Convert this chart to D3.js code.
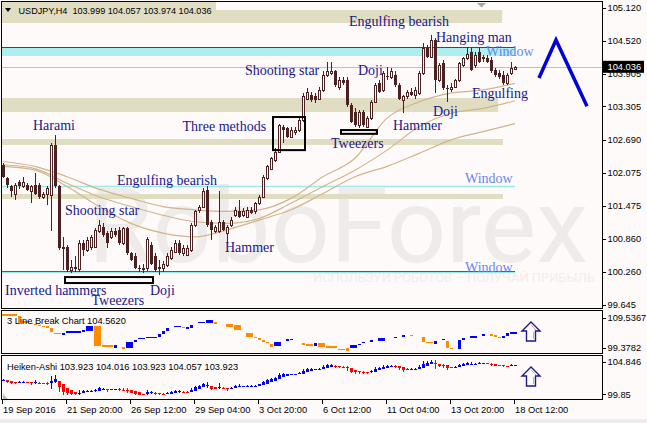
<!DOCTYPE html>
<html><head><meta charset="utf-8">
<script src="https://cdn.jsdelivr.net/npm/d3@7"></script>
<style>body{margin:0;background:#fffafa;} svg{display:block;}</style>
</head><body>
<svg id="c" width="647" height="423"></svg>
<script>
// ---------- DATA ----------
const symbolTitle = "USDJPY,H4  103.999 104.057 103.974 104.036";
const lastPrice = 104.036;
const open  = [102.23,101.98,101.83,101.70,101.92,101.83,101.86,101.74,101.86,101.86,101.64,101.70,101.67,102.59,101.83,100.69,100.72,100.29,100.35,100.30,100.78,100.66,100.72,100.72,101.00,101.09,100.97,100.90,101.00,101.03,100.78,101.06,100.60,100.54,100.32,100.31,100.32,100.75,100.54,100.34,100.32,100.38,100.51,100.63,100.78,100.60,100.57,100.66,101.12,101.40,101.46,101.77,101.18,101.00,101.00,101.18,100.97,101.12,101.30,101.37,101.30,101.27,101.40,101.37,101.52,101.64,101.98,102.16,102.32,102.47,102.93,102.90,102.75,102.84,102.87,103.06,103.45,103.52,103.49,103.45,103.61,103.89,103.92,103.95,103.67,103.79,103.79,103.33,103.21,102.96,103.21,102.93,103.09,103.39,103.73,103.61,103.87,103.85,103.89,103.70,103.42,103.49,103.58,103.52,103.55,103.92,104.38,104.22,104.53,103.79,104.10,103.64,103.62,103.67,103.79,104.07,104.19,104.31,104.07,104.31,104.19,104.19,104.16,103.98,103.92,103.89,103.73,103.92,103.999];
const high  = [102.27,102.00,101.86,101.89,101.95,102.01,101.90,101.86,102.08,101.90,101.72,101.83,102.63,102.78,101.86,100.90,100.75,100.48,100.54,100.84,100.84,100.90,100.94,101.06,101.21,101.15,101.00,101.06,101.06,101.09,101.09,101.09,100.63,100.60,100.38,100.40,100.90,100.80,100.60,100.48,100.45,100.60,100.72,100.84,100.84,100.75,100.75,101.15,101.40,101.49,101.80,101.83,101.21,101.12,101.74,101.21,101.12,101.27,101.46,101.58,101.43,101.46,101.46,101.55,101.67,102.04,102.23,102.38,102.53,102.99,102.96,102.93,102.93,102.93,103.09,103.55,103.64,103.58,103.55,103.67,103.95,104.13,104.13,103.98,103.85,103.85,103.85,103.36,103.27,103.24,103.24,103.12,103.42,103.73,103.79,103.95,104.04,104.01,103.95,103.73,103.52,103.61,103.64,103.67,103.95,104.47,104.44,104.62,104.56,104.10,104.16,103.70,103.73,103.82,104.13,104.22,104.41,104.38,104.31,104.38,104.25,104.25,104.22,104.01,103.98,103.95,103.92,104.13,104.057];
const low   = [101.98,101.80,101.64,101.58,101.78,101.80,101.74,101.52,101.68,101.60,101.60,101.49,101.00,101.80,100.66,100.29,100.26,100.24,100.26,100.26,100.54,100.63,100.66,100.69,100.97,100.90,100.69,100.87,100.90,100.75,100.75,100.57,100.45,100.30,100.26,100.24,100.28,100.38,100.26,100.20,100.26,100.35,100.48,100.60,100.57,100.54,100.54,100.63,101.09,101.35,101.43,101.09,100.84,100.97,100.97,101.00,100.78,101.09,101.27,101.24,101.27,101.24,101.33,101.33,101.49,101.61,101.95,102.13,102.29,102.44,102.63,102.72,102.72,102.78,102.84,103.02,103.42,103.39,103.36,103.42,103.58,103.85,103.89,103.67,103.61,103.70,103.30,103.00,102.93,102.90,102.93,102.90,103.06,103.36,103.55,103.58,103.79,103.82,103.67,103.42,103.18,103.45,103.49,103.45,103.52,103.89,104.19,104.19,103.55,103.76,103.61,103.39,103.58,103.64,103.76,104.04,104.16,103.95,104.01,104.10,104.13,104.10,103.92,103.85,103.82,103.70,103.70,103.89,103.974];
const close = [102.01,101.86,101.74,101.86,101.83,101.92,101.77,101.83,101.70,101.64,101.70,101.80,102.59,101.83,100.69,100.72,100.29,100.35,100.30,100.78,100.66,100.84,100.90,101.03,101.12,100.94,100.78,101.00,100.94,100.78,101.06,100.60,100.48,100.32,100.30,100.33,100.87,100.41,100.29,100.35,100.41,100.54,100.66,100.78,100.60,100.69,100.69,101.12,101.37,101.46,101.74,101.12,101.03,101.09,101.18,101.03,101.09,101.21,101.40,101.27,101.37,101.40,101.35,101.52,101.64,102.01,102.20,102.35,102.47,102.96,102.87,102.75,102.87,102.87,103.06,103.49,103.58,103.42,103.42,103.61,103.89,103.95,103.95,103.70,103.79,103.73,103.33,103.02,102.96,103.21,102.96,103.09,103.39,103.70,103.58,103.92,103.86,103.95,103.70,103.45,103.49,103.58,103.52,103.61,103.92,104.38,104.22,104.53,103.79,104.07,103.64,103.62,103.67,103.79,104.10,104.19,104.28,103.98,104.25,104.13,104.22,104.13,103.95,103.89,103.85,103.73,103.89,104.01,104.036];

// moving averages sampled every 8 bars
const maIdx  = [0,8,16,24,32,40,48,56,64,72,80,88,96,104,112,120,128];
const maFast = [102.29,102.20,102.01,101.78,101.61,101.46,101.40,101.37,101.40,101.61,102.01,102.35,103.09,103.39,103.55,103.61,103.73];
const maMid  = [102.23,102.16,101.89,101.64,101.46,101.30,101.18,101.15,101.24,101.52,101.83,102.13,102.50,102.93,103.18,103.27,103.41];
const maSlow = [102.20,102.13,101.83,101.46,101.15,100.97,100.90,101.03,101.21,101.40,101.70,102.01,102.20,102.44,102.69,102.84,102.99];

// support / resistance zones (price hi, lo, last bar index reached)
const zoneHi  = [105.083,103.461,102.705,101.691];
const zoneLo  = [104.843,103.203,102.595,101.599];
const zoneEnd = [124.8,123.8,125.0,125.0];
const windowZoneHi = 104.401, windowZoneLo = 104.235;
const windowLevels = [101.839,100.272];

// pattern boxes [startIdx, endIdx, priceHi, priceLo]
const patternBoxes = [[68,75,103.11,102.50],[85,93,102.87,102.80],[16,37,100.16,100.05]];

// forecast zigzag
const fcIdx   = [134,138.25,146];
const fcPrice = [103.83,104.53,103.31];

const yTicks = [105.120,104.520,103.905,103.305,102.690,102.075,101.475,100.860,100.260,99.645];
const xTickIdx = [0,16,32,48,64,80,96,112,128];
const xTickLabels = ["19 Sep 2016","21 Sep 20:00","26 Sep 12:00","29 Sep 04:00","3 Oct 20:00","6 Oct 12:00","11 Oct 04:00","13 Oct 20:00","18 Oct 12:00"];

// 3 Line Break bricks
const lbStart = [0,4,5,7,8,9,10,11,12,13,15,16,20,21,23,25,28,30,31,33,34,36,39,40,41,43,45,46,47,49,51,53,56,58,61,63,64,65,66,67,68,71,72,75,76,78,79,81,84,86,87,89,90,92,94,98,100,102,105,106,108,110,111,112,114,115,117,120,122,123,124,125,126,127];
const lbEnd   = [3,4,6,7,8,9,10,11,12,14,15,19,20,22,24,27,28,30,32,33,35,38,39,40,41,44,45,46,47,50,52,53,57,59,62,63,64,65,66,67,69,71,72,75,77,78,80,83,85,86,88,89,90,92,95,98,100,102,105,107,108,110,111,112,114,115,118,120,122,123,124,125,126,128];
const lbLo    = [108.78,106.67,107.00,106.62,106.36,106.11,105.86,105.73,104.38,104.08,103.70,104.46,104.53,104.71,100.98,100.90,100.47,100.39,100.47,101.99,102.86,103.01,103.19,104.03,104.71,105.80,105.60,105.22,105.40,106.82,106.82,106.41,105.80,104.97,103.26,102.86,102.43,101.99,101.59,100.57,100.98,102.43,102.60,101.46,100.90,100.98,100.72,100.65,100.01,99.63,100.47,101.33,101.74,102.17,102.17,103.01,103.26,103.52,101.99,101.74,101.33,102.60,100.47,100.06,100.06,102.43,102.93,103.70,103.70,103.44,103.01,102.86,103.52,103.95];
const lbHi    = [108.78,108.60,107.00,106.62,106.36,106.11,105.86,105.73,105.55,104.08,104.28,104.46,104.97,105.98,106.06,100.90,101.16,100.39,101.99,102.43,102.86,103.01,103.87,104.71,105.40,105.80,105.60,105.80,106.24,106.82,107.51,107.06,106.41,106.24,104.28,103.26,103.01,102.43,101.99,101.33,101.84,102.43,102.60,101.46,101.16,101.59,101.74,100.65,100.01,100.32,101.16,101.33,101.74,102.17,102.86,103.01,103.70,103.52,103.10,101.74,102.17,102.60,102.17,100.47,102.43,102.86,103.44,103.70,103.70,103.44,103.01,103.52,104.13,104.53];
const lbDir   = [-1,-1,-1,-1,-1,-1,-1,-1,-1,-1,1,1,1,1,-1,-1,1,-1,1,1,1,1,1,1,1,1,-1,1,1,1,1,-1,-1,-1,-1,-1,-1,-1,-1,-1,1,1,1,-1,-1,1,-1,-1,-1,-1,1,1,1,1,1,1,1,-1,-1,-1,1,1,-1,-1,1,1,1,1,-1,-1,-1,1,1,1];
const lbRange = [99.3782,109.5367];
const haRange = [99.85,104.846];

// annotations (text, layout)
const notes = [
 ["Engulfing bearish",349,26],["Hanging man",436,41.5],["Shooting star",245,74.5],["Doji",358,74.5],
 ["Engulfing",472,97.5],["Doji",433,116],["Hammer",393,129.5],["Harami",33,129.5],["Three methods",182.5,131],
 ["Tweezers",331,147.5],["Engulfing bearish",117,185],["Shooting star",65,215],["Hammer",225,251.5],
 ["Inverted hammers",5,294.5],["Doji",150,294.5],["Tweezers",91.5,304.5]
];
const windowNotes = [[486,56],[465,182.5],[465,272]];

// ---------- DRAW ----------
const svg = d3.select('#c');
const BG = '#fffafa', CANDLE = '#4a2222', AXF = 'Liberation Sans, Arial, sans-serif';
svg.append('rect').attr('width',647).attr('height',423).attr('fill',BG);
svg.append('rect').attr('x',0).attr('y',419).attr('width',647).attr('height',4).attr('fill','#ececec');

const x = d3.scaleLinear().domain([0,128]).range([3,515]);
const y = d3.scaleLinear().domain([99.645,105.12]).range([305,8]);
const yLB = d3.scaleLinear().domain(lbRange).range([352,312]);
const yHA = d3.scaleLinear().domain(haRange).range([398.3,358.2]);

const defs = svg.append('defs');
defs.append('clipPath').attr('id','mainClip').append('rect').attr('x',2).attr('y',2).attr('width',600).attr('height',306);
const main = svg.append('g').attr('clip-path','url(#mainClip)');

// watermark
main.append('text').attr('x',88).attr('y',262).attr('font-family','Roboto, sans-serif').attr('font-size',104)
  .attr('textLength',500).attr('lengthAdjust','spacingAndGlyphs').attr('fill','#efebeb').text('RoboForex');
main.append('text').attr('x',313).attr('y',282).attr('font-family','Roboto, sans-serif').attr('font-size',12.5)
  .attr('textLength',282).attr('lengthAdjust','spacingAndGlyphs').attr('fill','#f1eded').text('ИСПОЛЬЗУЙ РОБОТОВ – ПОЛУЧАЙ ПРИБЫЛЬ');

// header band behind title
main.append('rect').attr('x',2).attr('y',2).attr('width',214).attr('height',8).attr('fill','#e0ddc2');
// zones
main.selectAll('rect.zone').data(zoneHi).join('rect').attr('class','zone')
  .attr('x',2).attr('y',(d)=>y(d)).attr('width',(d,i)=>x(zoneEnd[i])-2)
  .attr('height',(d,i)=>y(zoneLo[i])-y(d)).attr('fill','#e0ddc2');
main.append('rect').attr('x',2).attr('y',y(windowZoneHi)).attr('width',x(128)-2)
  .attr('height',y(windowZoneLo)-y(windowZoneHi)).attr('fill','#afeeee');
main.append('line').attr('x1',2).attr('x2',x(128)).attr('y1',Math.round(y(windowZoneHi))+0.5).attr('y2',Math.round(y(windowZoneHi))+0.5)
  .attr('stroke','#2f4f4f').attr('stroke-width',1);
windowLevels.forEach((p,k)=>{
  const yy=Math.round(y(p))+0.5;
  main.append('line').attr('x1',2).attr('x2',x(128)).attr('y1',yy+ (k?1:0)).attr('y2',yy+(k?1:0)).attr('stroke','#9fe8e8').attr('stroke-width',1.5);
  if(k) main.append('line').attr('x1',2).attr('x2',x(128)).attr('y1',yy).attr('y2',yy).attr('stroke','#2f6f6f').attr('stroke-width',1);
});
// current price line
main.append('line').attr('x1',2).attr('x2',602).attr('y1',Math.round(y(lastPrice))+0.5).attr('y2',Math.round(y(lastPrice))+0.5)
  .attr('stroke','#c0c0c0').attr('stroke-width',1);

// moving averages
const maLine = d3.line().x((d,i)=>x(maIdx[i])).y(d=>y(d)).curve(d3.curveMonotoneX);
[maFast,maMid,maSlow].forEach(s=>{
  main.append('path').attr('d',maLine(s)).attr('fill','none').attr('stroke','#d2b48c').attr('stroke-width',1.2);
});

// candles
const idx = d3.range(close.length);
const cg = main.append('g').attr('shape-rendering','crispEdges');
cg.selectAll('line').data(idx).join('line')
  .attr('x1',i=>Math.round(x(i))+0.5).attr('x2',i=>Math.round(x(i))+0.5)
  .attr('y1',i=>y(high[i])).attr('y2',i=>y(low[i])).attr('stroke',CANDLE).attr('stroke-width',1);
cg.selectAll('rect').data(idx).join('rect')
  .attr('x',i=>close[i]>open[i]? Math.round(x(i))-1+0.5 : Math.round(x(i))-1)
  .attr('width',i=>close[i]>open[i]?2:3)
  .attr('y',i=>close[i]>open[i]? Math.round(y(close[i]))+0.5 : Math.round(y(open[i])))
  .attr('height',i=>Math.max(1, Math.abs(Math.round(y(close[i]))-Math.round(y(open[i])))))
  .attr('fill',i=>close[i]>open[i]?BG:CANDLE)
  .attr('stroke',i=>close[i]>open[i]?CANDLE:'none').attr('stroke-width',1);

// pattern boxes
patternBoxes.forEach(b=>{
  main.append('rect').attr('x',x(b[0])-2).attr('y',y(b[2])).attr('width',x(b[1])-x(b[0])+4)
    .attr('height',y(b[3])-y(b[2])).attr('fill','none').attr('stroke','#000').attr('stroke-width',2);
});

// forecast zigzag
main.append('path').attr('d',d3.line().x((d,i)=>x(fcIdx[i])).y(d=>y(d))(fcPrice))
  .attr('fill','none').attr('stroke','#0000dd').attr('stroke-width',3.5).attr('stroke-linejoin','miter');

// annotations
main.selectAll('text.note').data(notes).join('text').attr('class','note')
  .attr('x',d=>d[1]).attr('y',d=>d[2]).attr('font-family','Liberation Serif, Times New Roman, serif')
  .attr('font-size',14).attr('fill','#17178a').text(d=>d[0]);
main.selectAll('text.win').data(windowNotes).join('text').attr('class','win')
  .attr('x',d=>d[0]).attr('y',d=>d[1]).attr('font-family','Liberation Serif, Times New Roman, serif')
  .attr('font-size',14).attr('fill','#6688ee').text('Window');

// title
main.append('path').attr('d','M5,8 L11,8 L8,12 Z').attr('fill','#000');
main.append('text').attr('x',18.5).attr('y',13.5).attr('font-family',AXF).attr('font-size',9.2)
  .attr('textLength',193).attr('lengthAdjust','spacingAndGlyphs').attr('fill','#000').attr('xml:space','preserve').text(symbolTitle);
// shift marker
main.append('path').attr('d','M477,3 L486,3 L481.5,7.5 Z').attr('fill','#a8a8a8');

// ----- 3 Line Break panel -----
const lb = svg.append('g').attr('shape-rendering','crispEdges');
lb.selectAll('rect').data(lbStart).join('rect')
  .attr('x',(d,i)=>x(d)-1.5).attr('width',(d,i)=>x(lbEnd[i])-x(d)+3)
  .attr('y',(d,i)=>{const h=yLB(lbLo[i])-yLB(lbHi[i]); return h<1.5? yLB(lbHi[i])-0.75 : yLB(lbHi[i]);})
  .attr('height',(d,i)=>Math.max(1.5,yLB(lbLo[i])-yLB(lbHi[i])))
  .attr('fill',(d,i)=>lbDir[i]>0?'#0000ff':'#ff8c00');
svg.append('text').attr('x',7).attr('y',323.5).attr('font-family',AXF).attr('font-size',9.3).attr('fill','#000').text('3 Line Break Chart 104.5620');

// ----- Heiken Ashi panel -----
const ha=[]; 
idx.forEach(i=>{
  const hc=(open[i]+high[i]+low[i]+close[i])/4;
  const ho= i? (ha[i-1].o+ha[i-1].c)/2 : (open[i]+close[i])/2;
  ha.push({i, o:ho, c:hc, h:Math.max(high[i],ho,hc), l:Math.min(low[i],ho,hc)});
});
const hg = svg.append('g').attr('shape-rendering','crispEdges');
hg.selectAll('line').data(ha).join('line')
  .attr('x1',d=>Math.round(x(d.i))+0.5).attr('x2',d=>Math.round(x(d.i))+0.5)
  .attr('y1',d=>yHA(d.h)).attr('y2',d=>yHA(d.l)).attr('stroke',d=>d.c>=d.o?'#0000ff':'#ff0000');
hg.selectAll('rect').data(ha).join('rect')
  .attr('x',d=>Math.round(x(d.i))-1).attr('width',3)
  .attr('y',d=>yHA(Math.max(d.o,d.c))).attr('height',d=>Math.max(1,Math.abs(yHA(d.o)-yHA(d.c))))
  .attr('fill',d=>d.c>=d.o?'#0000ff':'#ff0000');
svg.append('text').attr('x',7).attr('y',369.5).attr('font-family',AXF).attr('font-size',9.3).attr('fill','#000')
  .text('Heiken-Ashi 103.923 104.016 103.923 104.057 103.923');
svg.append('path').attr('d','M3,394 L3,399 L8,399 Z').attr('fill','#bbbbbb');

// arrows
[322,367].forEach(t=>{
  const c=531;
  svg.append('path').attr('d',`M${c},${t} L${c+9},${t+9} L${c+4.5},${t+9} L${c+4.5},${t+19} L${c-4.5},${t+19} L${c-4.5},${t+9} L${c-9},${t+9} Z`)
    .attr('fill','#fff').attr('stroke','#1a1a8a').attr('stroke-width',1.4);
  svg.append('path').attr('d',`M${c},${t+3} L${c+5},${t+8} M${c+2.5},${t+10} L${c+2.5},${t+17}`)
    .attr('fill','none').attr('stroke','#e08080').attr('stroke-width',0.8);
});

// ----- frames -----
const fr = svg.append('g').attr('fill','none').attr('stroke','#000').attr('stroke-width',1).attr('shape-rendering','crispEdges');
fr.append('rect').attr('x',1.5).attr('y',1.5).attr('width',601).attr('height',307);
fr.append('rect').attr('x',1.5).attr('y',310.5).attr('width',601).attr('height',43);
fr.append('rect').attr('x',1.5).attr('y',355.5).attr('width',601).attr('height',44);

// ----- right axis -----
const ax = svg.append('g');
yTicks.forEach(v=>{
  ax.append('line').attr('x1',602).attr('x2',606).attr('y1',Math.round(y(v))+0.5).attr('y2',Math.round(y(v))+0.5).attr('stroke','#000');
  ax.append('text').attr('x',607.5).attr('y',y(v)).attr('dy','0.35em').attr('font-family',AXF).attr('font-size',9.3).attr('fill','#000').text(v.toFixed(3));
});
// current price box
ax.append('rect').attr('x',603).attr('y',y(lastPrice)-6).attr('width',41).attr('height',12).attr('fill','#000');
ax.append('text').attr('x',607.5).attr('y',y(lastPrice)).attr('dy','0.35em').attr('font-family',AXF).attr('font-size',9.3).attr('fill','#fff').text(lastPrice.toFixed(3));
// panel labels
[[yLB(lbRange[1])+6,'109.5367'],[yLB(lbRange[0])-4,'99.3782'],[yHA(haRange[1])+4,'104.846'],[yHA(haRange[0])-4,'99.85']].forEach(d=>{
  ax.append('line').attr('x1',602).attr('x2',606).attr('y1',Math.round(d[0])+0.5).attr('y2',Math.round(d[0])+0.5).attr('stroke','#000');
  ax.append('text').attr('x',607.5).attr('y',d[0]).attr('dy','0.35em').attr('font-family',AXF).attr('font-size',9.3).attr('fill','#000').text(d[1]);
});

// ----- bottom axis -----
xTickIdx.forEach((t,k)=>{
  const xx=Math.round(x(t))-0.5;
  ax.append('line').attr('x1',xx).attr('x2',xx).attr('y1',400).attr('y2',404).attr('stroke','#000');
  ax.append('text').attr('x',xx+0.5).attr('y',413).attr('font-family',AXF).attr('font-size',9.3).attr('fill','#000').text(xTickLabels[k]);
});
</script>
</body></html>
